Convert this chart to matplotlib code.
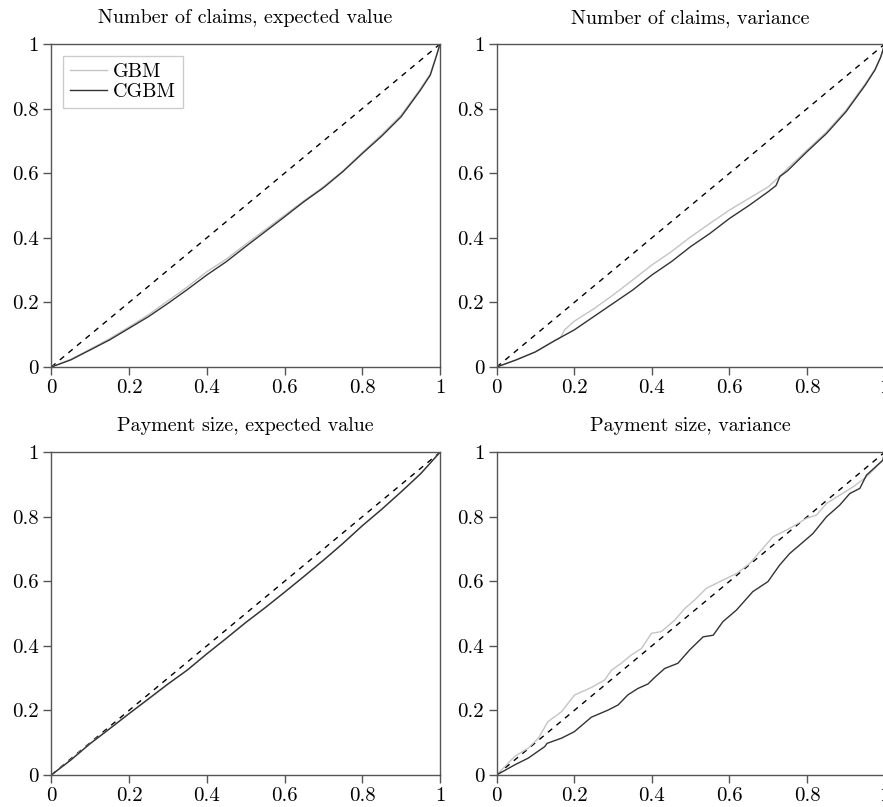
import matplotlib
matplotlib.use('Agg')
import matplotlib.pyplot as plt
from matplotlib.ticker import FuncFormatter

plt.rcParams['font.family'] = ['cmr10', 'DejaVu Serif']
plt.rcParams['axes.formatter.use_mathtext'] = True
plt.rcParams['axes.unicode_minus'] = False

# Number of claims, expected value
x1 = [0, .05, .1, .15, .2, .25, .3, .35, .4, .45, .5, .55, .6, .65, .7, .75, .8, .85, .9, .95, .975, .99, 1]
gbm1 = [0, .024, .055, .088, .124, .162, .205, .248, .295, .334, .38, .425, .47, .515, .558, .607, .664, .72, .78, .862, .908, .962, 1]
cgbm1 = [0, .022, .053, .084, .12, .156, .197, .24, .285, .326, .373, .419, .465, .512, .555, .605, .661, .715, .775, .858, .904, .96, 1]

# Number of claims, variance
x2g = [0, .05, .1, .15, .165, .175, .2, .25, .3, .35, .4, .45, .5, .55, .6, .65, .7, .72, .75, .8, .85, .9, .95, .975, .99, 1]
gbm2 = [0, .022, .047, .082, .092, .115, .142, .18, .223, .269, .316, .357, .403, .445, .486, .522, .558, .58, .615, .672, .728, .795, .877, .922, .962, 1]
x2c = [0, .05, .1, .15, .2, .25, .3, .35, .4, .45, .5, .55, .6, .65, .7, .72, .73, .75, .8, .85, .9, .95, .975, .99, 1]
cgbm2 = [0, .022, .047, .082, .115, .156, .197, .238, .285, .326, .373, .414, .46, .50, .543, .562, .59, .608, .667, .723, .79, .873, .92, .96, 1]

# Payment size, expected value
x3 = [0, .05, .1, .15, .2, .25, .3, .35, .4, .45, .5, .55, .6, .65, .7, .75, .8, .85, .9, .95, 1]
gbm3 = [0, .047, .098, .144, .19, .234, .28, .326, .376, .424, .473, .519, .567, .616, .666, .718, .773, .824, .878, .934, 1]
cgbm3 = [0, .046, .097, .143, .19, .236, .282, .325, .375, .423, .472, .518, .566, .615, .665, .717, .772, .823, .877, .933, 1]

# Payment size, variance
x4g = [0, .046, .081, .107, .132, .167, .201, .244, .278, .296, .321, .347, .373, .399, .424, .459, .485, .51,
       .54, .583, .618, .652, .678, .712, .755, .798, .824, .85, .884, .919, .953, .995, 1]
gbm4 = [0, .057, .083, .113, .165, .196, .248, .271, .294, .325, .346, .372, .392, .439, .444, .48, .516, .542,
        .578, .604, .624, .655, .691, .738, .764, .795, .805, .841, .867, .893, .924, .975, 1]
x4c = [0, .046, .081, .124, .13, .167, .2, .244, .287, .313, .338, .364, .39, .407, .433, .467, .497, .532, .558,
       .583, .618, .66, .699, .729, .755, .79, .815, .85, .884, .91, .936, .953, .995, 1]
cgbm4 = [0, .031, .052, .088, .098, .114, .134, .179, .201, .217, .248, .268, .282, .302, .33, .346, .387, .428, .433,
         .475, .511, .568, .599, .65, .686, .722, .748, .8, .836, .872, .888, .929, .975, 1]

titles = ['Number of claims, expected value', 'Number of claims, variance',
          'Payment size, expected value', 'Payment size, variance']
ticks = [0, 0.2, 0.4, 0.6, 0.8, 1]

panels = [
    (x1, gbm1, x1, cgbm1),
    (x2g, gbm2, x2c, cgbm2),
    (x3, gbm3, x3, cgbm3),
    (x4g, gbm4, x4c, cgbm4),
]
positions = [
    [0.0581, 0.5452, 0.4402, 0.4002],
    [0.5625, 0.5452, 0.4394, 0.4002],
    [0.0581, 0.0397, 0.4402, 0.3999],
    [0.5625, 0.0397, 0.4394, 0.3999],
]

fmt = FuncFormatter(lambda v, p: '0' if v == 0 else ('1' if v == 1 else f'{v:.1f}'))

fig = plt.figure(figsize=(8.83, 8.07), dpi=100)
for i, (xg, yg, xc, yc) in enumerate(panels):
    ax = fig.add_axes(positions[i])
    ax.plot([0, 1], [0, 1], '--', color='black', lw=1, dashes=(4, 4))
    ax.plot(xg, yg, color='#c4c4c4', lw=1, label='GBM')
    ax.plot(xc, yc, color='#333333', lw=1, label='CGBM')
    ax.set_xlim(0, 1)
    ax.set_ylim(0, 1)
    ax.set_xticks(ticks)
    ax.set_yticks(ticks)
    ax.xaxis.set_major_formatter(fmt)
    ax.yaxis.set_major_formatter(fmt)
    ax.tick_params(direction='out', length=6, width=1, color='#555555', labelsize=15, pad=3)
    for s in ax.spines.values():
        s.set_color('#555555')
        s.set_linewidth(1)
    ax.set_title(titles[i], fontsize=14.4, pad=15)
    if i == 0:
        leg = ax.legend(loc='upper left', fontsize=14.5, fancybox=False, framealpha=1,
                        edgecolor='#cccccc', handlelength=1.8, handletextpad=0.3,
                        borderpad=0.35, labelspacing=0.1, borderaxespad=0.6)
        leg.get_frame().set_linewidth(1)

fig.savefig('out.png', dpi=100)
